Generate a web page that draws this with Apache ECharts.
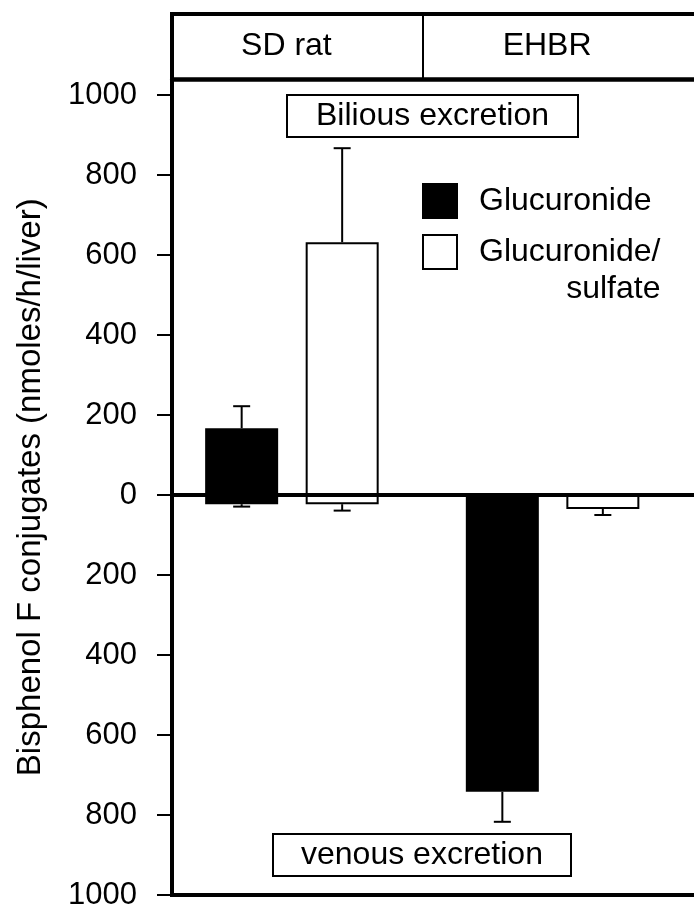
<!DOCTYPE html>
<html>
<head>
<meta charset="utf-8">
<script src="https://cdn.jsdelivr.net/npm/echarts@6/dist/echarts.min.js"></script>
<style>
html,body{margin:0;padding:0;background:#fff;}
#chart{width:694px;height:906px;}
</style>
</head>
<body>
<div id="chart"></div>
<script>
// ---- data ----
var categories = ['SD rat', 'EHBR'];
var seriesNames = ['Glucuronide', 'Glucuronide/sulfate'];
// bilious excretion (positive, upward)
var biliousGluc = [167, null];
var biliousGS = [632, null];
// venous excretion (negative, downward)
var venousGluc = [-23, -742];
var venousGS = [-23, -35];
// error bars (SD)
var biliousGlucErr = [55, null];
var biliousGSErr = [235, null];
var venousGlucErr = [6, 75];
var venousGSErr = [16, 15];
// y tick values
var yTicks = [-1000, -800, -600, -400, -200, 0, 200, 400, 600, 800, 1000];
var labelBilious = 'Bilious excretion';
var labelVenous = 'venous excretion';
var yTitle = 'Bisphenol F conjugates (nmoles/h/liver)';

// ---- style ----
var FONT = 'Liberation Sans, Arial, Helvetica, sans-serif';
var BAR_W = 73, BAR_GAP = 27.5;
var X_MIN = 0.54, X_MAX = 2.6;

function pairs(arr) {
  return arr.map(function (v, i) { return [i + 1, v == null ? '-' : v]; });
}
function errPairs(vals, errs, dir) {
  var out = [];
  vals.forEach(function (v, i) {
    if (v != null && errs[i] != null) out.push([i + 1, v, v + dir * errs[i]]);
  });
  return out;
}
function errSeries(data, side) {
  return {
    type: 'custom',
    xAxisIndex: 0, yAxisIndex: 0,
    z: 5,
    silent: true,
    data: data,
    renderItem: function (params, api) {
      var off = side * (BAR_W + BAR_GAP) / 2;
      var p0 = api.coord([api.value(0), api.value(1)]);
      var p1 = api.coord([api.value(0), api.value(2)]);
      var x = p0[0] + off;
      var half = 8.5;
      return {
        type: 'group',
        children: [
          { type: 'line', shape: { x1: x, y1: p0[1], x2: x, y2: p1[1] }, style: { stroke: '#000', lineWidth: 2 } },
          { type: 'line', shape: { x1: x - half, y1: p1[1], x2: x + half, y2: p1[1] }, style: { stroke: '#000', lineWidth: 2 } }
        ]
      };
    }
  };
}

var blackStyle = { color: '#000', borderColor: '#000', borderWidth: 2 };
var whiteStyle = { color: '#fff', borderColor: '#000', borderWidth: 2 };
var gapPct = (BAR_GAP / BAR_W * 100).toFixed(1) + '%';

var chart = echarts.init(document.getElementById('chart'), null, { renderer: 'canvas' });

var option = {
  animation: false,
  backgroundColor: '#fff',
  textStyle: { fontFamily: FONT, color: '#000' },
  title: [
    {
      text: labelBilious, left: 287, top: 95,
      padding: [4, 29, 4, 29],
      borderColor: '#000', borderWidth: 2,
      textStyle: { fontFamily: FONT, fontSize: 32, fontWeight: 'normal', color: '#000', lineHeight: 34 }
    },
    {
      text: labelVenous, left: 273, top: 834,
      padding: [4, 28, 4, 28],
      borderColor: '#000', borderWidth: 2,
      textStyle: { fontFamily: FONT, fontSize: 32, fontWeight: 'normal', color: '#000', lineHeight: 34 }
    }
  ],
  legend: {
    orient: 'vertical',
    left: 422, top: 183,
    padding: 0,
    itemWidth: 34, itemHeight: 34,
    itemGap: 15,
    selectedMode: false,
    icon: 'rect',
    data: [
      { name: seriesNames[0], textStyle: { padding: [0, 0, 0, 17] } },
      { name: seriesNames[1], textStyle: { padding: [37, 0, 0, 17] } }
    ],
    formatter: function (name) {
      var parts = name.split('/');
      if (parts.length > 1) return '{a|' + parts[0] + '/}\n{b|' + parts[1] + '}';
      return '{a|' + name + '}';
    },
    textStyle: {
      fontFamily: FONT, fontSize: 32, color: '#000',
      rich: {
        a: { fontFamily: FONT, fontSize: 32, lineHeight: 37, color: '#000' },
        b: { fontFamily: FONT, fontSize: 32, lineHeight: 37, color: '#000', align: 'right' }
      }
    }
  },
  grid: [
    { left: 172, width: 537, top: 79.5, height: 815.5, outerBoundsMode: 'none', show: true, borderColor: '#000', borderWidth: 4, backgroundColor: 'transparent', containLabel: false },
    { left: 172, width: 537, top: 14, height: 65.5, outerBoundsMode: 'none', show: true, borderColor: '#000', borderWidth: 4, backgroundColor: 'transparent', containLabel: false }
  ],
  xAxis: [
    {
      gridIndex: 0, type: 'value', min: X_MIN, max: X_MAX,
      axisLine: { show: true, onZero: true, lineStyle: { color: '#000', width: 4 } },
      axisTick: { show: false }, axisLabel: { show: false }, splitLine: { show: false }
    },
    {
      gridIndex: 1, type: 'value', min: X_MIN, max: X_MAX,
      axisLine: { show: false },
      axisTick: { show: true, inside: true, length: 65.5, customValues: [1.5], lineStyle: { color: '#000', width: 2 } },
      axisLabel: {
        show: true, inside: true, customValues: categories.map(function (c, i) { return i + 1; }),
        formatter: function (v) { return categories[Math.round(v) - 1] || ''; },
        fontFamily: FONT, fontSize: 32, color: '#000', verticalAlign: 'middle', margin: 33,
        padding: [0, 11, 0, 0]
      },
      splitLine: { show: false }
    }
  ],
  yAxis: [
    {
      gridIndex: 0, type: 'value', min: -1000, max: 1038.75, interval: 200,
      name: yTitle, nameLocation: 'middle', nameGap: 125,
      nameTextStyle: { fontFamily: FONT, fontSize: 33, color: '#000' },
      axisLine: { show: true, lineStyle: { color: '#000', width: 4 } },
      axisTick: { show: true, length: 15, customValues: yTicks, lineStyle: { color: '#000', width: 2 } },
      axisLabel: {
        show: true, customValues: yTicks, margin: 35,
        formatter: function (v) { return String(Math.abs(v)); },
        fontFamily: FONT, fontSize: 31, color: '#000'
      },
      splitLine: { show: false }
    },
    {
      gridIndex: 1, type: 'value', min: 0, max: 1,
      axisLine: { show: false }, axisTick: { show: false }, axisLabel: { show: false }, splitLine: { show: false }
    }
  ],
  series: [
    { name: seriesNames[0], type: 'bar', stack: 'gluc', data: pairs(biliousGluc), barWidth: BAR_W, barGap: gapPct, itemStyle: blackStyle },
    { name: seriesNames[0], type: 'bar', stack: 'gluc', data: pairs(venousGluc), barWidth: BAR_W, barGap: gapPct, itemStyle: blackStyle },
    { name: seriesNames[1], type: 'bar', stack: 'gs', data: pairs(biliousGS), barWidth: BAR_W, barGap: gapPct, itemStyle: whiteStyle },
    { name: seriesNames[1], type: 'bar', stack: 'gs', data: pairs(venousGS), barWidth: BAR_W, barGap: gapPct, itemStyle: whiteStyle },
    errSeries(errPairs(biliousGluc, biliousGlucErr, 1), -1),
    errSeries(errPairs(venousGluc, venousGlucErr, -1), -1),
    errSeries(errPairs(biliousGS, biliousGSErr, 1), 1),
    errSeries(errPairs(venousGS, venousGSErr, -1), 1)
  ]
};
chart.setOption(option);
</script>
</body>
</html>
